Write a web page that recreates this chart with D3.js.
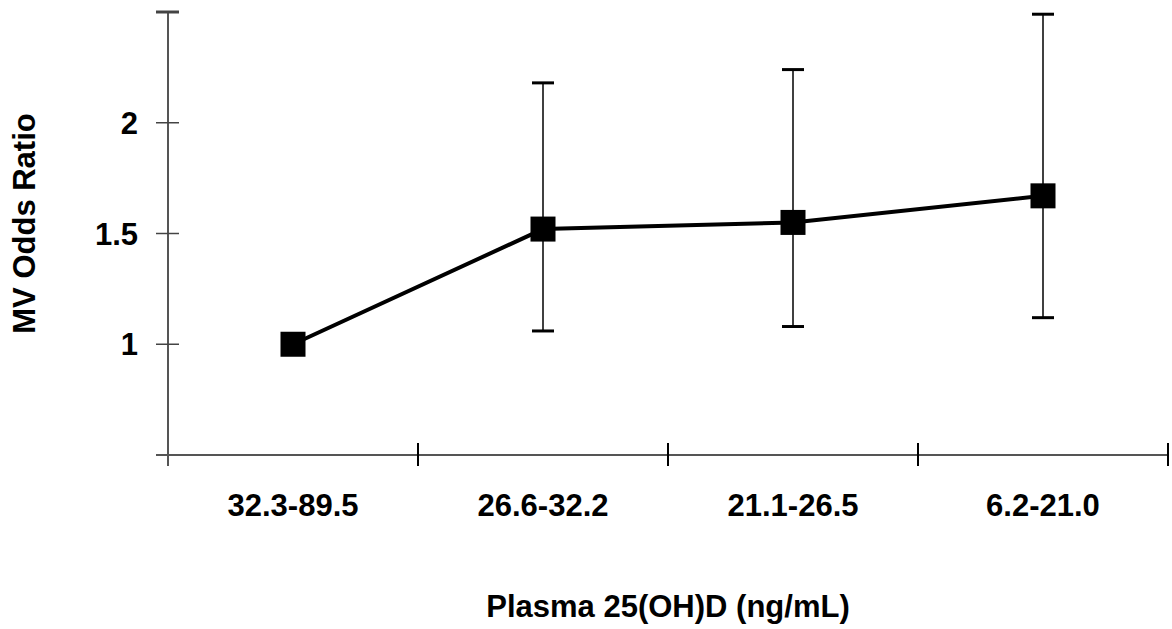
<!DOCTYPE html>
<html>
<head>
<meta charset="utf-8">
<script src="https://cdn.jsdelivr.net/npm/d3@7"></script>
<style>
  body { margin: 0; background: #fff; }
  text { font-family: 'Liberation Sans', Arial, sans-serif; font-weight: bold; fill: #000; }
</style>
</head>
<body>
<div id="chart-container"></div>
<script>
// data
const categories = ['32.3-89.5', '26.6-32.2', '21.1-26.5', '6.2-21.0']
const oddsRatio = [1.0, 1.52, 1.55, 1.67]
const ciLower = [null, 1.06, 1.08, 1.12]
const ciUpper = [null, 2.18, 2.24, 2.49]
const yTicks = [1, 1.5, 2]

// constants
const width = 1172
const height = 629
const margin = {left: 168, top: 12, right: 4, bottom: 174}
const plotWidth = width - margin.left - margin.right
const plotHeight = height - margin.top - margin.bottom
const fontSize = '31px'

const rows = categories.map((c, i) => ({cat: c, or: oddsRatio[i], lo: ciLower[i], hi: ciUpper[i]}))

const svg = d3.select('#chart-container')
  .append('svg')
  .attr('width', width)
  .attr('height', height)
  .append('g')
  .attr('transform', `translate(${margin.left}, ${margin.top})`)

const xScale = d3.scaleBand()
  .domain(categories)
  .range([0, plotWidth])

const yScale = d3.scaleLinear()
  .domain([0.5, 2.5])
  .range([plotHeight, 0])

const cx = d => xScale(d.cat) + xScale.bandwidth() / 2

// y axis: line, crossing ticks, labels
svg.append('line')
  .attr('x1', 0).attr('x2', 0)
  .attr('y1', 0).attr('y2', plotHeight + 11)
  .style('stroke', '#555')
  .style('stroke-width', 2)

svg.selectAll('.ytick')
  .data(yTicks.concat([2.5]))
  .enter().append('line')
  .attr('x1', -12).attr('x2', 11)
  .attr('y1', d => yScale(d)).attr('y2', d => yScale(d))
  .style('stroke', '#444')
  .style('stroke-width', d => d === 2.5 ? 3 : 1.5)

svg.selectAll('.ylab')
  .data(yTicks)
  .enter().append('text')
  .attr('x', -30)
  .attr('y', d => yScale(d))
  .attr('dy', '0.36em')
  .attr('text-anchor', 'end')
  .attr('font-size', fontSize)
  .text(d => d)

// x axis: line, ticks at band edges, labels
svg.append('line')
  .attr('x1', -12).attr('x2', plotWidth)
  .attr('y1', plotHeight).attr('y2', plotHeight)
  .style('stroke', '#555')
  .style('stroke-width', 2)

const edges = categories.map(c => xScale(c)).concat([plotWidth])
svg.selectAll('.xtick')
  .data(edges.slice(1))
  .enter().append('line')
  .attr('x1', d => d).attr('x2', d => d)
  .attr('y1', plotHeight - 12).attr('y2', plotHeight + 11)
  .style('stroke', '#000')
  .style('stroke-width', 2)

svg.selectAll('.xlab')
  .data(categories)
  .enter().append('text')
  .attr('x', d => xScale(d) + xScale.bandwidth() / 2)
  .attr('y', plotHeight + 61)
  .attr('text-anchor', 'middle')
  .attr('font-size', fontSize)
  .text(d => d)

// axis titles
svg.append('text')
  .attr('x', plotWidth / 2)
  .attr('y', plotHeight + 162)
  .attr('text-anchor', 'middle')
  .attr('font-size', fontSize)
  .text('Plasma 25(OH)D (ng/mL)')

svg.append('text')
  .attr('transform', `translate(${-133}, ${yScale(1.5) - 10}) rotate(-90)`)
  .attr('text-anchor', 'middle')
  .attr('font-size', fontSize)
  .text('MV Odds Ratio')

// error bars
const ci = rows.filter(d => d.lo !== null)
svg.selectAll('.bar')
  .data(ci)
  .enter().append('line')
  .attr('x1', cx).attr('x2', cx)
  .attr('y1', d => yScale(d.lo)).attr('y2', d => yScale(d.hi))
  .style('stroke', '#000')
  .style('stroke-width', 1.5)

svg.selectAll('.capHi')
  .data(ci)
  .enter().append('line')
  .attr('x1', d => cx(d) - 11).attr('x2', d => cx(d) + 11)
  .attr('y1', d => yScale(d.hi)).attr('y2', d => yScale(d.hi))
  .style('stroke', '#000')
  .style('stroke-width', 3)

svg.selectAll('.capLo')
  .data(ci)
  .enter().append('line')
  .attr('x1', d => cx(d) - 11).attr('x2', d => cx(d) + 11)
  .attr('y1', d => yScale(d.lo)).attr('y2', d => yScale(d.lo))
  .style('stroke', '#000')
  .style('stroke-width', 3)

// connecting line
const line = d3.line()
  .x(cx)
  .y(d => yScale(d.or))
svg.append('path')
  .datum(rows)
  .attr('d', line)
  .style('fill', 'none')
  .style('stroke', '#000')
  .style('stroke-width', 4)

// square markers
svg.selectAll('.marker')
  .data(rows)
  .enter().append('rect')
  .attr('x', d => cx(d) - 12.5)
  .attr('y', d => yScale(d.or) - 12.5)
  .attr('width', 25)
  .attr('height', 25)
  .style('fill', '#000')
</script>
</body>
</html>
